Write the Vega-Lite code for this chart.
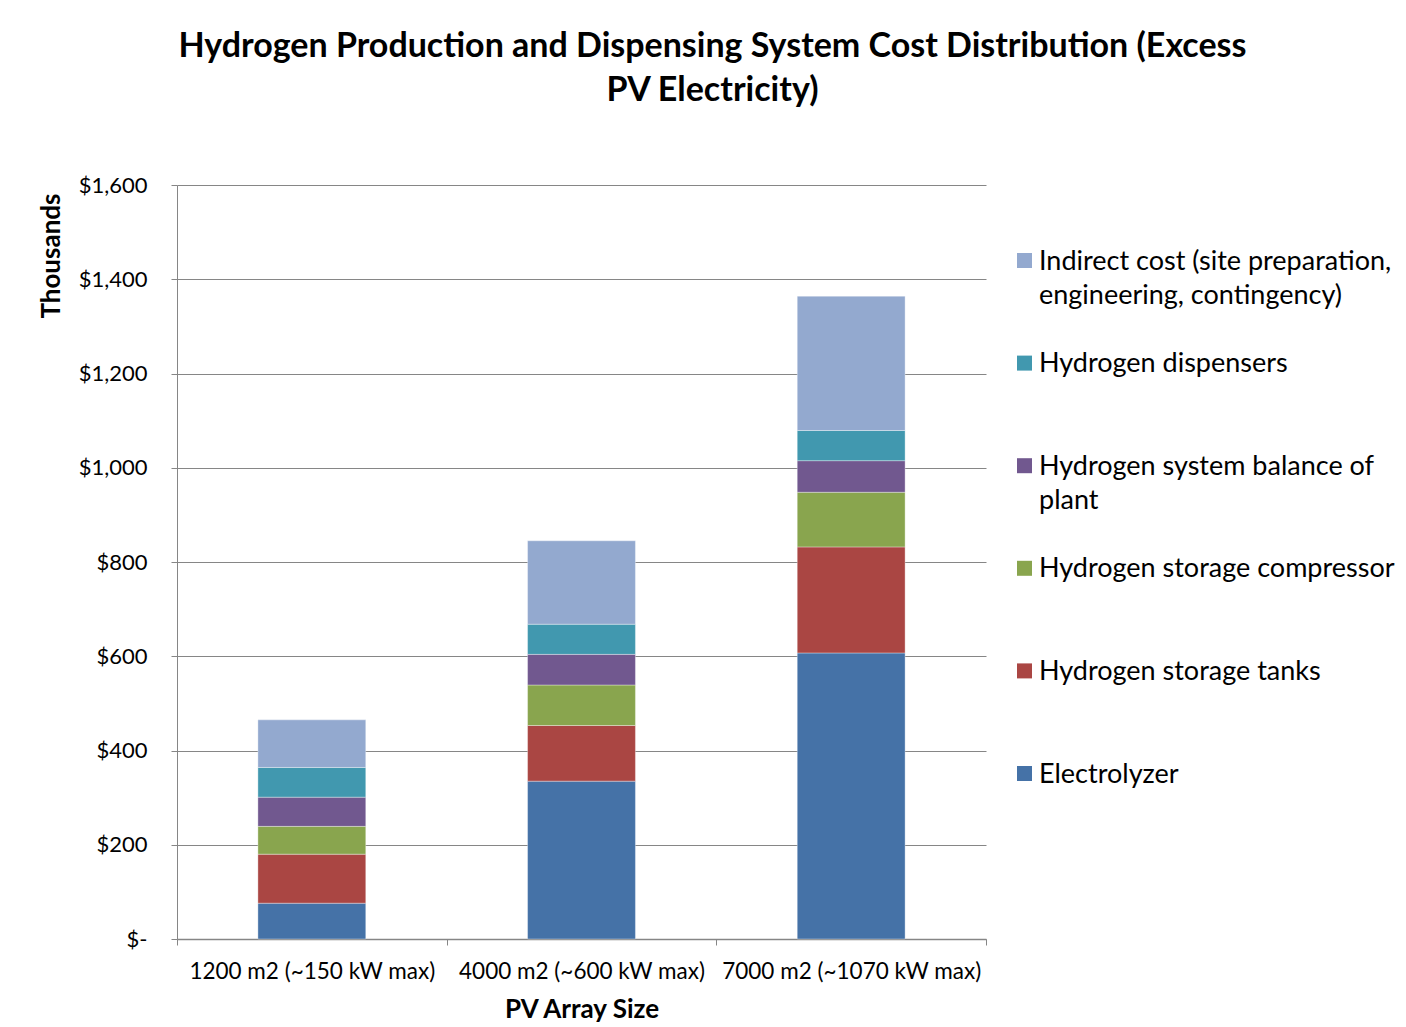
{
  "$schema": "https://vega.github.io/schema/vega-lite/v6.json",
  "width": 809,
  "height": 754,
  "autosize": {"type": "none"},
  "padding": {"left": 177, "top": 185, "right": 420, "bottom": 88},
  "background": "white",
  "config": {
    "font": "Lato",
    "view": {"stroke": null}
  },
  "title": {
    "text": ["Hydrogen Production and Dispensing System Cost Distribution (Excess", "PV Electricity)"],
    "font": "Lato",
    "fontSize": 34,
    "fontWeight": "bold",
    "color": "black",
    "anchor": "middle",
    "dx": 131,
    "lineHeight": 44,
    "offset": 66
  },
  "data": {
    "values": [
      {"size": "1200 m2 (~150 kW max)", "item": "Electrolyzer", "k": 1, "cost": 76},
      {"size": "1200 m2 (~150 kW max)", "item": "Hydrogen storage tanks", "k": 2, "cost": 104},
      {"size": "1200 m2 (~150 kW max)", "item": "Hydrogen storage compressor", "k": 3, "cost": 59},
      {"size": "1200 m2 (~150 kW max)", "item": "Hydrogen system balance of plant", "k": 4, "cost": 62},
      {"size": "1200 m2 (~150 kW max)", "item": "Hydrogen dispensers", "k": 5, "cost": 63},
      {"size": "1200 m2 (~150 kW max)", "item": "Indirect cost (site preparation, engineering, contingency)", "k": 6, "cost": 101},
      {"size": "4000 m2 (~600 kW max)", "item": "Electrolyzer", "k": 1, "cost": 335},
      {"size": "4000 m2 (~600 kW max)", "item": "Hydrogen storage tanks", "k": 2, "cost": 118},
      {"size": "4000 m2 (~600 kW max)", "item": "Hydrogen storage compressor", "k": 3, "cost": 86},
      {"size": "4000 m2 (~600 kW max)", "item": "Hydrogen system balance of plant", "k": 4, "cost": 65},
      {"size": "4000 m2 (~600 kW max)", "item": "Hydrogen dispensers", "k": 5, "cost": 64},
      {"size": "4000 m2 (~600 kW max)", "item": "Indirect cost (site preparation, engineering, contingency)", "k": 6, "cost": 177},
      {"size": "7000 m2 (~1070 kW max)", "item": "Electrolyzer", "k": 1, "cost": 607},
      {"size": "7000 m2 (~1070 kW max)", "item": "Hydrogen storage tanks", "k": 2, "cost": 225},
      {"size": "7000 m2 (~1070 kW max)", "item": "Hydrogen storage compressor", "k": 3, "cost": 116},
      {"size": "7000 m2 (~1070 kW max)", "item": "Hydrogen system balance of plant", "k": 4, "cost": 67},
      {"size": "7000 m2 (~1070 kW max)", "item": "Hydrogen dispensers", "k": 5, "cost": 64},
      {"size": "7000 m2 (~1070 kW max)", "item": "Indirect cost (site preparation, engineering, contingency)", "k": 6, "cost": 285}
    ]
  },
  "mark": {
    "type": "bar",
    "width": {"band": 0.4},
    "stroke": "white",
    "strokeOpacity": 0.35,
    "strokeWidth": 1
  },
  "encoding": {
    "x": {
      "field": "size",
      "type": "nominal",
      "sort": ["1200 m2 (~150 kW max)", "4000 m2 (~600 kW max)", "7000 m2 (~1070 kW max)"],
      "scale": {"paddingInner": 0, "paddingOuter": 0},
      "axis": {
        "title": "PV Array Size",
        "titleFont": "Lato",
        "titleFontSize": 26,
        "titleFontWeight": "bold",
        "titleColor": "black",
        "titlePadding": 14,
        "labelAngle": 0,
        "labelFont": "Lato",
        "labelFontSize": 22.5,
        "labelColor": "black",
        "labelPadding": 15,
        "labelLimit": 400,
        "tickBand": "extent",
        "tickSize": 6,
        "tickColor": "#868686",
        "domainColor": "#868686",
        "domainWidth": 1.5,
        "grid": false
      }
    },
    "y": {
      "field": "cost",
      "type": "quantitative",
      "stack": "zero",
      "scale": {"domain": [0, 1600], "nice": false},
      "axis": {
        "title": "Thousands",
        "titleFont": "Lato",
        "titleFontSize": 26,
        "titleFontWeight": "bold",
        "titleColor": "black",
        "titleAnchor": "end",
        "titleY": 8,
        "titlePadding": 14,
        "values": [0, 200, 400, 600, 800, 1000, 1200, 1400, 1600],
        "labelExpr": "datum.value == 0 ? '$-' : '$' + format(datum.value, ',')",
        "labelFont": "Lato",
        "labelFontSize": 22,
        "labelColor": "black",
        "labelPadding": 24,
        "tickSize": 6,
        "tickColor": "#868686",
        "domainColor": "#868686",
        "grid": true,
        "gridColor": "#868686",
        "gridWidth": 1
      }
    },
    "color": {
      "field": "item",
      "type": "nominal",
      "scale": {
        "domain": [
          "Indirect cost (site preparation, engineering, contingency)",
          "Hydrogen dispensers",
          "Hydrogen system balance of plant",
          "Hydrogen storage compressor",
          "Hydrogen storage tanks",
          "Electrolyzer"
        ],
        "range": ["#93A9CF", "#4198AF", "#71588F", "#89A54E", "#AA4643", "#4572A7"]
      },
      "legend": {
        "title": null,
        "orient": "none",
        "legendX": 834,
        "legendY": 62,
        "padding": 0,
        "symbolType": "square",
        "symbolSize": 225,
        "symbolStrokeWidth": 0,
        "symbolOpacity": 1,
        "labelFont": "Lato",
        "labelFontSize": 27,
        "labelColor": "black",
        "labelLimit": 420,
        "labelOffset": 1,
        "labelBaseline": "alphabetic",
        "rowPadding": 40.6,
        "labelExpr": "datum.label == 'Indirect cost (site preparation, engineering, contingency)' ? ['Indirect cost (site preparation,', 'engineering, contingency)'] : datum.label == 'Hydrogen system balance of plant' ? ['Hydrogen system balance of', 'plant'] : [datum.label, ' ']",
        "encoding": {
          "labels": {"dy": {"value": 9}, "lineHeight": {"value": 34}}
        }
      }
    },
    "order": {"field": "k", "type": "quantitative"}
  }
}
